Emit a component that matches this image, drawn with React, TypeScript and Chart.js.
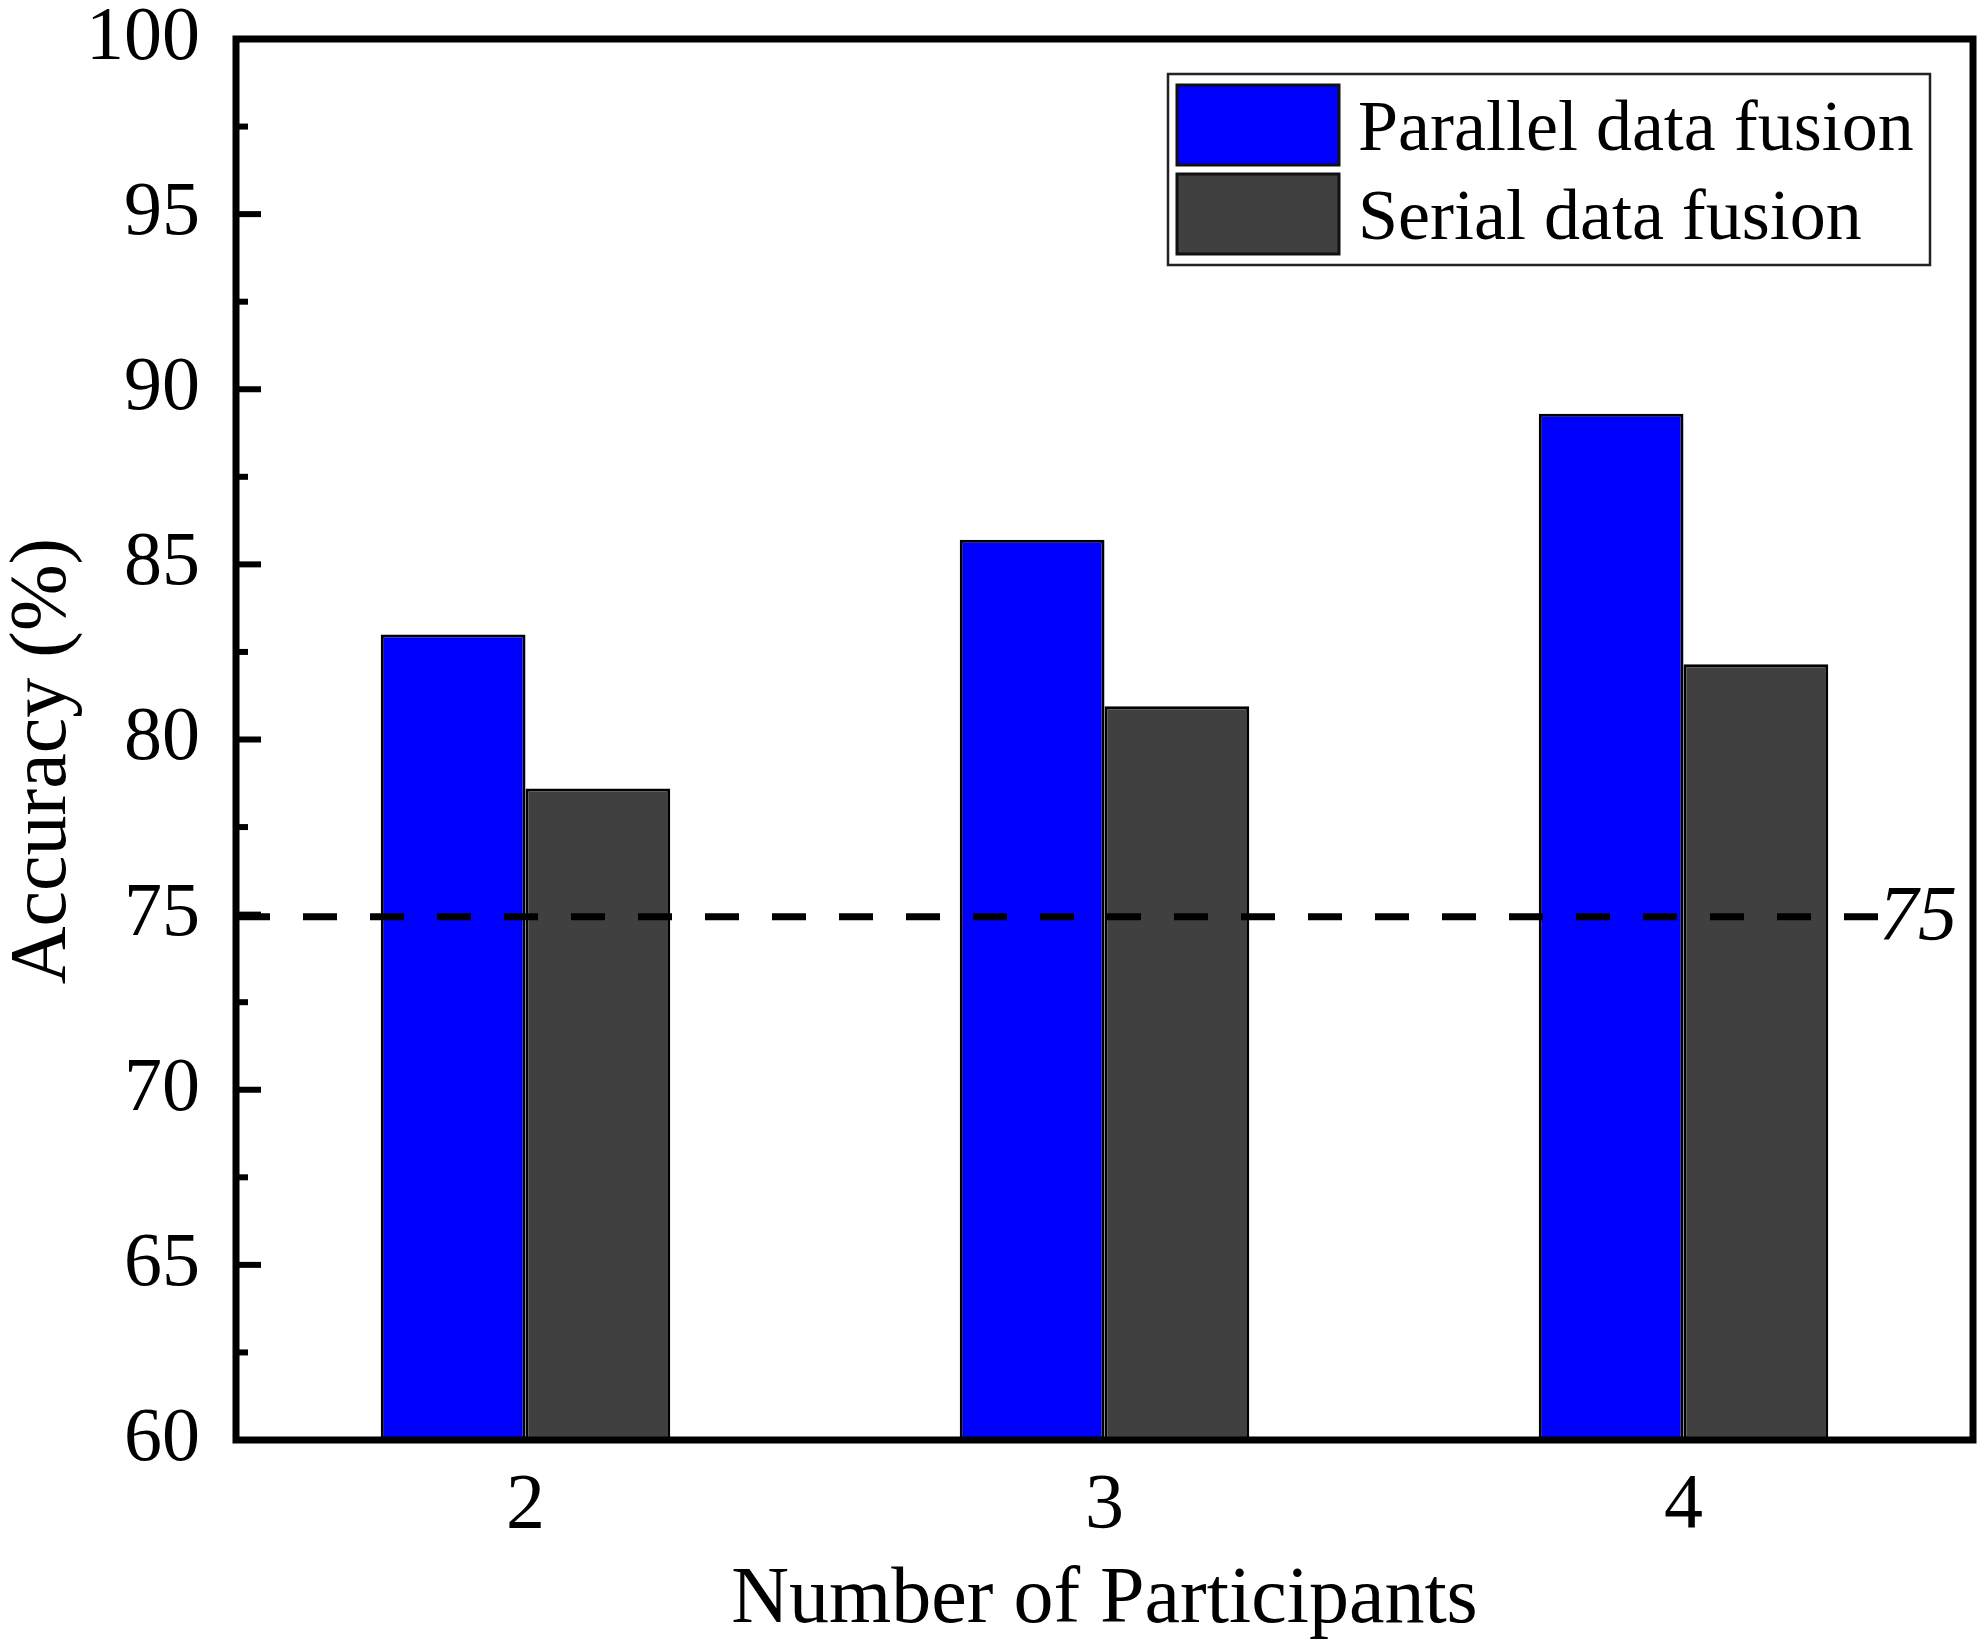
import React, { useRef, useEffect } from 'react';
import { Chart, registerables } from 'chart.js';

Chart.register(...registerables);

const participants = ['2', '3', '4'];
const parallelAccuracy = [83.0, 85.7, 89.3];
const serialAccuracy = [78.6, 80.95, 82.15];
const thresholdValue = 75;
const seriesNames = ['Parallel data fusion', 'Serial data fusion'];
const seriesColors = ['#0000FF', '#404040'];

const serif = '"Liberation Serif", "Times New Roman", serif';

// frame, inward ticks, dashed 75% line, legend and y title
const decorPlugin = {
  id: 'decor',
  afterDatasetsDraw(chart: any) {
    const { ctx, chartArea, scales } = chart;
    const { left, top, right, bottom } = chartArea;
    const y = scales.y;
    ctx.save();

    // threshold line
    const ty = y.getPixelForValue(thresholdValue);
    ctx.strokeStyle = '#000';
    ctx.lineWidth = 7;
    ctx.setLineDash([34, 33]);
    ctx.beginPath();
    ctx.moveTo(left, ty + 2);
    ctx.lineTo(right - 94, ty + 2);
    ctx.stroke();
    ctx.setLineDash([]);
    ctx.fillStyle = '#000';
    ctx.font = `italic 78px ${serif}`;
    ctx.textAlign = 'left';
    ctx.textBaseline = 'middle';
    ctx.fillText(String(thresholdValue), right - 94, ty + 4);

    // frame
    ctx.lineWidth = 7;
    ctx.strokeRect(left, top, right - left, bottom - top);

    // inward ticks on the y axis
    ctx.lineWidth = 6;
    for (let v = y.min; v <= y.max; v += 2.5) {
      const py = y.getPixelForValue(v);
      const len = v % 5 === 0 ? 25 : 12;
      ctx.beginPath();
      ctx.moveTo(left, py);
      ctx.lineTo(left + len, py);
      ctx.stroke();
    }
    ctx.restore();
  },
  afterDraw(chart: any) {
    const { ctx, chartArea } = chart;
    ctx.save();

    // y axis title
    ctx.fillStyle = '#000';
    ctx.font = `80px ${serif}`;
    ctx.textAlign = 'center';
    ctx.textBaseline = 'middle';
    ctx.translate(44, 761);
    ctx.rotate(-Math.PI / 2);
    ctx.fillText('Accuracy (%)', 0, 0);
    ctx.setTransform(1, 0, 0, 1, 0, 0);

    // legend
    const bx = 1168;
    const by = 74;
    ctx.lineWidth = 2.5;
    ctx.strokeStyle = '#222';
    ctx.strokeRect(bx, by, chartArea.right - 43 - bx, 191);
    chart.data.datasets.forEach((ds: any, i: number) => {
      const sy = 85 + i * 89;
      ctx.fillStyle = ds.backgroundColor;
      ctx.fillRect(1177, sy, 162, 80);
      ctx.lineWidth = 3;
      ctx.strokeStyle = '#111';
      ctx.strokeRect(1177, sy, 162, 80);
      ctx.fillStyle = '#000';
      ctx.font = `72px ${serif}`;
      ctx.textAlign = 'left';
      ctx.textBaseline = 'alphabetic';
      ctx.fillText(ds.label, 1358, 150 + i * 89);
    });
    ctx.restore();
  },
};

const App: React.FC = () => {
  const canvasRef = useRef<HTMLCanvasElement | null>(null);

  useEffect(() => {
    const ctx = canvasRef.current!.getContext('2d')!;
    const chart = new Chart(ctx, {
      type: 'bar',
      data: {
        labels: participants,
        datasets: [
          {
            label: seriesNames[0],
            data: parallelAccuracy,
            backgroundColor: seriesColors[0],
            borderColor: '#000',
            borderWidth: 3,
            categoryPercentage: 0.5,
            barPercentage: 1.0,
          },
          {
            label: seriesNames[1],
            data: serialAccuracy,
            backgroundColor: seriesColors[1],
            borderColor: '#000',
            borderWidth: 3,
            categoryPercentage: 0.5,
            barPercentage: 1.0,
          },
        ],
      },
      options: {
        responsive: false,
        animation: false,
        devicePixelRatio: 1,
        layout: { padding: { top: 39, right: 10, left: 0, bottom: 0 } },
        plugins: {
          legend: { display: false },
          tooltip: { enabled: false },
        },
        scales: {
          x: {
            grid: { display: false, drawTicks: false },
            border: { display: false },
            ticks: {
              color: '#000',
              padding: 20,
              font: { family: serif, size: 78 },
            },
            title: {
              display: true,
              text: 'Number of Participants',
              color: '#000',
              padding: { top: 0, bottom: 3 },
              font: { family: serif, size: 80 },
            },
            afterFit: (scale: any) => {
              scale.height = 212;
              scale.paddingLeft = 0;
              scale.paddingRight = 0;
            },
          },
          y: {
            min: 60,
            max: 100,
            grid: { display: false, drawTicks: false },
            border: { display: false },
            ticks: {
              stepSize: 5,
              color: '#000',
              padding: 36,
              font: { family: serif, size: 76 },
            },
            afterFit: (scale: any) => {
              scale.width = 236;
              scale.paddingTop = 0;
              scale.paddingBottom = 0;
            },
          },
        },
      },
      plugins: [decorPlugin],
    });
    return () => chart.destroy();
  }, []);

  return (
    <div
      style={{
        position: 'fixed',
        left: 0,
        top: 0,
        width: 1983,
        height: 1652,
        background: '#fff',
      }}
    >
      <canvas ref={canvasRef} width={1983} height={1652} style={{ width: 1983, height: 1652 }} />
    </div>
  );
};

export default App;
